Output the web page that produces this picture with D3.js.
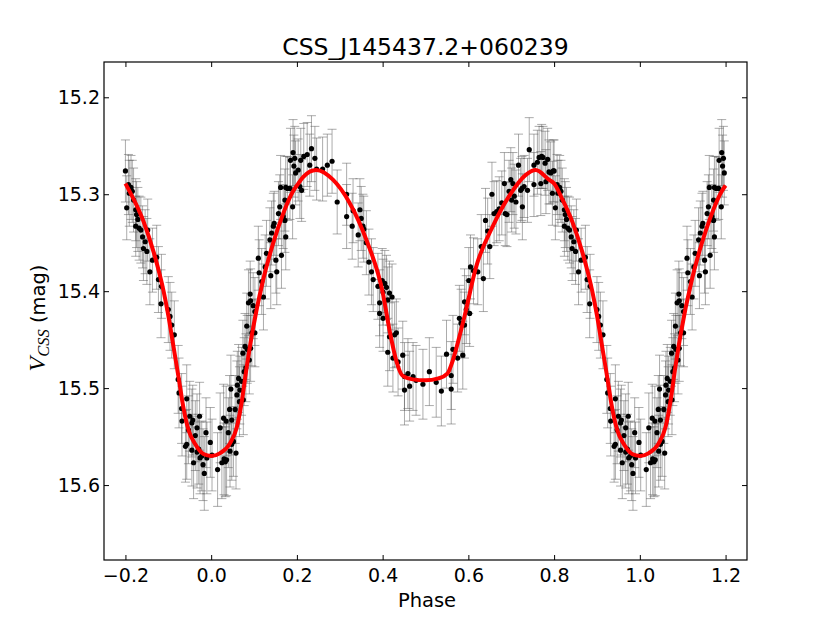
<!DOCTYPE html>
<html>
<head>
<meta charset="utf-8">
<script src="https://cdn.jsdelivr.net/npm/d3@7"></script>
<style>
  body { margin: 0; background: #fff; }
  svg { display: block; font-family: "DejaVu Sans", sans-serif; }
</style>
</head>
<body>
<svg id="chart" width="830" height="623"></svg>
<script>
// light curve, phase-folded. phases in [-0.2, 0.8); those below 0.2 are drawn again at phase + 1
const chartTitle = 'CSS_J145437.2+060239';
const xTickValues = [-0.2, 0.0, 0.2, 0.4, 0.6, 0.8, 1.0, 1.2];
const yTickValues = [15.2, 15.3, 15.4, 15.5, 15.6];

// [phase, V mag, error]
const observations = [
  [-0.200, 15.276, 0.032], [-0.197, 15.314, 0.033], [-0.193, 15.290, 0.031], [-0.187, 15.293, 0.033],
  [-0.184, 15.297, 0.032], [-0.191, 15.299, 0.034], [-0.181, 15.306, 0.033], [-0.176, 15.316, 0.032],
  [-0.174, 15.321, 0.034], [-0.171, 15.326, 0.033], [-0.176, 15.333, 0.031], [-0.168, 15.335, 0.033],
  [-0.164, 15.337, 0.034], [-0.160, 15.344, 0.032], [-0.158, 15.356, 0.033], [-0.150, 15.359, 0.034],
  [-0.154, 15.349, 0.033], [-0.148, 15.337, 0.032], [-0.143, 15.380, 0.034], [-0.137, 15.368, 0.033],
  [-0.127, 15.365, 0.033], [-0.123, 15.388, 0.034], [-0.116, 15.395, 0.033], [-0.117, 15.413, 0.035],
  [-0.100, 15.419, 0.034], [-0.096, 15.426, 0.035], [-0.092, 15.435, 0.034], [-0.086, 15.445, 0.035],
  [-0.077, 15.491, 0.035], [-0.075, 15.505, 0.036], [-0.057, 15.511, 0.035], [-0.069, 15.521, 0.036],
  [-0.068, 15.534, 0.036], [-0.060, 15.560, 0.037], [-0.057, 15.558, 0.036], [-0.053, 15.543, 0.035],
  [-0.050, 15.529, 0.036], [-0.045, 15.536, 0.035], [-0.045, 15.564, 0.037], [-0.043, 15.533, 0.036],
  [-0.041, 15.577, 0.037], [-0.037, 15.549, 0.036], [-0.033, 15.541, 0.035], [-0.033, 15.566, 0.037],
  [-0.029, 15.563, 0.036], [-0.027, 15.529, 0.035], [-0.026, 15.572, 0.037], [-0.022, 15.570, 0.036],
  [-0.019, 15.579, 0.037], [-0.016, 15.588, 0.038], [-0.012, 15.546, 0.036], [-0.010, 15.572, 0.037],
  [-0.002, 15.556, 0.036], [0.002, 15.569, 0.037], [0.015, 15.584, 0.038], [0.021, 15.541, 0.036],
  [0.025, 15.577, 0.037], [0.029, 15.531, 0.035], [0.030, 15.573, 0.037], [0.033, 15.576, 0.036],
  [0.035, 15.534, 0.036], [0.036, 15.574, 0.037], [0.040, 15.546, 0.036], [0.043, 15.522, 0.035],
  [0.044, 15.565, 0.037], [0.046, 15.501, 0.035], [0.048, 15.533, 0.036], [0.048, 15.558, 0.037],
  [0.052, 15.555, 0.036], [0.056, 15.522, 0.035], [0.058, 15.567, 0.037], [0.060, 15.507, 0.035],
  [0.061, 15.497, 0.035], [0.064, 15.490, 0.035], [0.066, 15.514, 0.036], [0.067, 15.502, 0.035],
  [0.071, 15.493, 0.035], [0.074, 15.464, 0.034], [0.075, 15.512, 0.036], [0.077, 15.483, 0.035],
  [0.079, 15.457, 0.034], [0.081, 15.479, 0.035], [0.083, 15.436, 0.034], [0.084, 15.460, 0.035],
  [0.089, 15.471, 0.035], [0.092, 15.459, 0.034], [0.095, 15.443, 0.034], [0.102, 15.443, 0.035],
  [0.087, 15.412, 0.034], [0.092, 15.410, 0.033], [0.091, 15.403, 0.034], [0.098, 15.415, 0.034],
  [0.102, 15.421, 0.035], [0.110, 15.366, 0.033], [0.112, 15.381, 0.034], [0.118, 15.390, 0.034],
  [0.122, 15.406, 0.034], [0.126, 15.375, 0.033], [0.129, 15.361, 0.034], [0.139, 15.384, 0.034],
  [0.137, 15.347, 0.033], [0.141, 15.340, 0.033], [0.145, 15.333, 0.034], [0.147, 15.330, 0.033],
  [0.151, 15.368, 0.034], [0.153, 15.380, 0.034], [0.157, 15.320, 0.033], [0.160, 15.313, 0.033],
  [0.164, 15.363, 0.034], [0.168, 15.323, 0.033], [0.172, 15.327, 0.033], [0.172, 15.306, 0.032],
  [0.174, 15.344, 0.034], [0.162, 15.293, 0.033], [0.174, 15.293, 0.032], [0.178, 15.294, 0.033],
  [0.184, 15.294, 0.032], [0.185, 15.265, 0.033], [0.190, 15.313, 0.033], [0.191, 15.257, 0.034],
  [0.193, 15.271, 0.032], [0.197, 15.278, 0.033], [0.195, 15.263, 0.033], [0.203, 15.275, 0.032],
  [0.207, 15.292, 0.033], [0.211, 15.296, 0.032], [0.209, 15.265, 0.033], [0.216, 15.261, 0.034],
  [0.224, 15.259, 0.033], [0.230, 15.270, 0.032], [0.234, 15.253, 0.034], [0.242, 15.263, 0.033],
  [0.246, 15.274, 0.032], [0.260, 15.274, 0.033], [0.271, 15.270, 0.032], [0.282, 15.266, 0.033],
  [0.294, 15.308, 0.033], [0.316, 15.300, 0.032], [0.316, 15.323, 0.033], [0.331, 15.317, 0.033],
  [0.329, 15.333, 0.034], [0.343, 15.342, 0.033], [0.347, 15.316, 0.032], [0.350, 15.325, 0.033],
  [0.354, 15.333, 0.033], [0.356, 15.336, 0.034], [0.362, 15.350, 0.033], [0.368, 15.370, 0.034],
  [0.374, 15.380, 0.034], [0.378, 15.388, 0.033], [0.389, 15.395, 0.034], [0.393, 15.412, 0.034],
  [0.399, 15.389, 0.033], [0.405, 15.392, 0.034], [0.409, 15.396, 0.033], [0.401, 15.401, 0.034],
  [0.412, 15.409, 0.034], [0.416, 15.402, 0.033], [0.422, 15.406, 0.034], [0.393, 15.423, 0.035],
  [0.401, 15.428, 0.034], [0.412, 15.463, 0.035], [0.416, 15.447, 0.035], [0.424, 15.469, 0.035],
  [0.428, 15.445, 0.034], [0.432, 15.443, 0.035], [0.436, 15.473, 0.035], [0.447, 15.466, 0.035],
  [0.451, 15.502, 0.036], [0.451, 15.488, 0.035], [0.459, 15.485, 0.036], [0.463, 15.498, 0.036],
  [0.471, 15.488, 0.035], [0.478, 15.492, 0.036], [0.494, 15.496, 0.036], [0.509, 15.483, 0.035],
  [0.525, 15.494, 0.036], [0.537, 15.503, 0.036], [0.549, 15.465, 0.035], [0.560, 15.501, 0.036],
  [0.560, 15.487, 0.035], [0.564, 15.460, 0.035], [0.575, 15.469, 0.035], [0.579, 15.428, 0.034],
  [0.583, 15.433, 0.035], [0.587, 15.466, 0.035], [0.591, 15.435, 0.034], [0.595, 15.419, 0.035],
  [0.603, 15.423, 0.034], [0.591, 15.411, 0.034], [0.601, 15.389, 0.034], [0.605, 15.375, 0.033],
  [0.612, 15.379, 0.034], [0.622, 15.380, 0.034], [0.635, 15.387, 0.034], [0.630, 15.354, 0.033],
  [0.640, 15.327, 0.033], [0.645, 15.338, 0.034], [0.650, 15.354, 0.033], [0.655, 15.300, 0.033],
  [0.660, 15.320, 0.033], [0.666, 15.318, 0.032], [0.672, 15.315, 0.033], [0.678, 15.309, 0.033],
  [0.684, 15.289, 0.032], [0.686, 15.320, 0.033], [0.690, 15.321, 0.033], [0.695, 15.297, 0.032],
  [0.699, 15.285, 0.033], [0.701, 15.306, 0.033], [0.704, 15.289, 0.032], [0.707, 15.302, 0.033],
  [0.711, 15.308, 0.033], [0.717, 15.270, 0.032], [0.722, 15.296, 0.033], [0.725, 15.294, 0.033],
  [0.726, 15.313, 0.034], [0.730, 15.292, 0.032], [0.738, 15.296, 0.033], [0.742, 15.254, 0.033],
  [0.753, 15.270, 0.032], [0.753, 15.290, 0.033], [0.761, 15.267, 0.033], [0.765, 15.262, 0.032],
  [0.769, 15.289, 0.033], [0.771, 15.261, 0.033], [0.774, 15.262, 0.032], [0.779, 15.268, 0.033],
  [0.781, 15.287, 0.033], [0.785, 15.264, 0.032], [0.788, 15.277, 0.033], [0.792, 15.278, 0.032],
  [0.796, 15.299, 0.033], [0.798, 15.276, 0.032]
];

// fitted model, [phase, V mag], read over one cycle
const fitCurve = [
  [-0.200, 15.289], [-0.181, 15.305], [-0.157, 15.329], [-0.134, 15.360], [-0.111, 15.400],
  [-0.100, 15.425], [-0.088, 15.457], [-0.076, 15.489], [-0.064, 15.522], [-0.053, 15.543],
  [-0.037, 15.558], [-0.018, 15.568], [0.000, 15.570], [0.021, 15.567], [0.044, 15.557],
  [0.060, 15.540], [0.071, 15.515], [0.083, 15.478], [0.095, 15.445], [0.122, 15.387],
  [0.145, 15.350], [0.168, 15.320], [0.191, 15.297], [0.200, 15.291], [0.215, 15.282],
  [0.245, 15.275], [0.284, 15.285], [0.323, 15.309], [0.362, 15.347], [0.400, 15.401],
  [0.416, 15.440], [0.432, 15.472], [0.446, 15.487], [0.470, 15.491], [0.500, 15.492],
  [0.530, 15.490], [0.551, 15.485], [0.564, 15.471], [0.579, 15.447], [0.591, 15.426],
  [0.618, 15.375], [0.657, 15.333], [0.695, 15.302], [0.734, 15.280], [0.757, 15.275],
  [0.788, 15.285]
];

const W = 830, H = 623;
const margin = { top: 62, right: 83, bottom: 63, left: 104 };

const svg = d3.select('#chart');

const x = d3.scaleLinear().domain([-0.25, 1.25]).range([margin.left, W - margin.right]);
const y = d3.scaleLinear().domain([15.1636, 15.6773]).range([margin.top, H - margin.bottom]);

// fold: repeat the first part of the cycle one phase later
const points = observations.flatMap(d => d[0] < 0.2 ? [d, [d[0] + 1, d[1], d[2]]] : [d]);
const model = fitCurve.concat(fitCurve.filter(d => d[0] <= 0.2).map(d => [d[0] + 1, d[1]]))
  .sort((a, b) => a[0] - b[0]);

// =========================================
// AXES
// =========================================

const fmt = d3.format('.1f');
const TICK = 5;

function styleAxis(g) {
  g.select('.domain').remove();
  g.attr('font-family', '"DejaVu Sans", sans-serif').attr('font-size', 19);
  g.selectAll('line').attr('stroke', '#000');
  g.selectAll('text').attr('fill', '#000');
}

svg.append('g')
  .attr('transform', `translate(0,${H - margin.bottom})`)
  .call(d3.axisBottom(x).tickValues(xTickValues).tickFormat(fmt)
    .tickSizeInner(-TICK).tickSizeOuter(0).tickPadding(9))
  .call(styleAxis);

svg.append('g')
  .attr('transform', `translate(0,${margin.top})`)
  .call(d3.axisTop(x).tickValues(xTickValues).tickFormat('')
    .tickSizeInner(-TICK).tickSizeOuter(0))
  .call(styleAxis);

svg.append('g')
  .attr('transform', `translate(${margin.left},0)`)
  .call(d3.axisLeft(y).tickValues(yTickValues).tickFormat(fmt)
    .tickSizeInner(-TICK).tickSizeOuter(0).tickPadding(4))
  .call(styleAxis);

svg.append('g')
  .attr('transform', `translate(${W - margin.right},0)`)
  .call(d3.axisRight(y).tickValues(yTickValues).tickFormat('')
    .tickSizeInner(-TICK).tickSizeOuter(0))
  .call(styleAxis);

// =========================================
// DATA
// =========================================

svg.append('defs').append('clipPath').attr('id', 'plot-clip')
  .append('rect')
  .attr('x', margin.left).attr('y', margin.top)
  .attr('width', W - margin.left - margin.right)
  .attr('height', H - margin.top - margin.bottom);

const plotG = svg.append('g').attr('clip-path', 'url(#plot-clip)');

// error bars
const errG = plotG.append('g')
  .attr('stroke', '#5a5a5a')
  .attr('stroke-opacity', 0.5)
  .attr('stroke-width', 1);

const CAP = 4.5;
points.forEach(d => {
  const cx = x(d[0]);
  const y0 = y(d[1] - d[2]);
  const y1 = y(d[1] + d[2]);
  errG.append('line').attr('x1', cx).attr('x2', cx).attr('y1', y0).attr('y2', y1);
  errG.append('line').attr('x1', cx - CAP).attr('x2', cx + CAP).attr('y1', y0).attr('y2', y0);
  errG.append('line').attr('x1', cx - CAP).attr('x2', cx + CAP).attr('y1', y1).attr('y2', y1);
});

// points
plotG.append('g').selectAll('circle')
  .data(points)
  .join('circle')
  .attr('cx', d => x(d[0]))
  .attr('cy', d => y(d[1]))
  .attr('r', 2.6)
  .attr('fill', '#000');

// model curve
const line = d3.line()
  .x(d => x(d[0]))
  .y(d => y(d[1]))
  .curve(d3.curveMonotoneX);

plotG.append('path')
  .datum(model)
  .attr('d', line)
  .attr('fill', 'none')
  .attr('stroke', '#ff0000')
  .attr('stroke-width', 4)
  .attr('stroke-linejoin', 'round');

// frame
svg.append('rect')
  .attr('x', margin.left).attr('y', margin.top)
  .attr('width', W - margin.left - margin.right)
  .attr('height', H - margin.top - margin.bottom)
  .attr('fill', 'none')
  .attr('stroke', '#000')
  .attr('stroke-width', 1.2);

// =========================================
// LABELS
// =========================================

svg.append('text')
  .attr('x', (margin.left + W - margin.right) / 2)
  .attr('y', 55)
  .attr('text-anchor', 'middle')
  .attr('font-size', 23.5)
  .text(chartTitle);

svg.append('text')
  .attr('x', 427)
  .attr('y', 607)
  .attr('text-anchor', 'middle')
  .attr('font-size', 19.5)
  .text('Phase');

const yLabel = svg.append('text')
  .attr('transform', 'translate(45,318) rotate(-90)')
  .attr('text-anchor', 'middle')
  .attr('font-size', 19.5);

yLabel.append('tspan')
  .attr('font-family', '"Liberation Serif", serif')
  .attr('font-style', 'italic')
  .attr('font-size', 24)
  .text('V');
yLabel.append('tspan')
  .attr('font-family', '"Liberation Serif", serif')
  .attr('font-style', 'italic')
  .attr('font-size', 16.5)
  .attr('dy', 4)
  .text('CSS');
yLabel.append('tspan')
  .attr('dy', -4)
  .text('\u00a0(mag)');
</script>
</body>
</html>
